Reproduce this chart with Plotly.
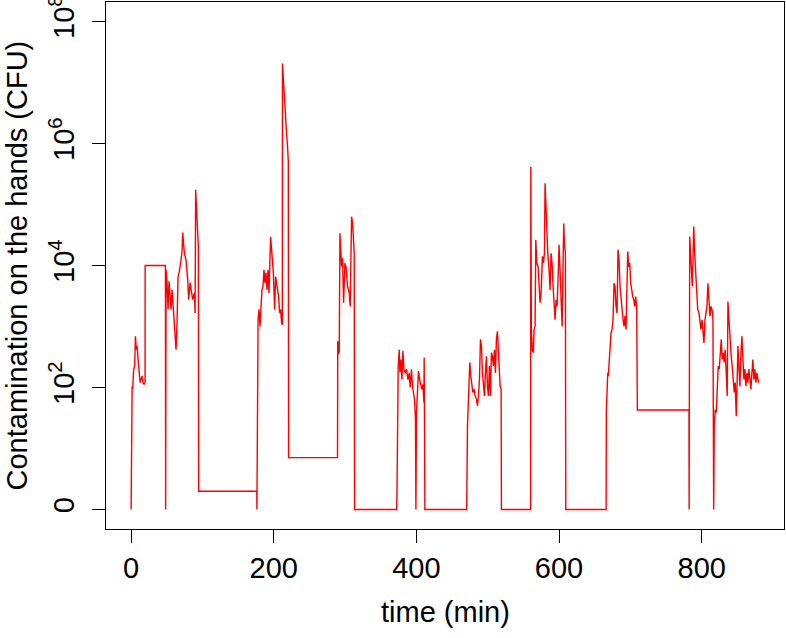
import plotly.graph_objects as go

# time (min) and log10 contamination on the hands (CFU)
time_min = [
    0, 0.8, 1.4, 2.2, 3.6, 5.0, 6.0, 7.4, 8.4, 9.8, 11.2, 12.6, 14.0, 15.4, 16.8, 18.2, 19.6,
    19.7, 48.1, 48.4, 49.0, 50.4, 51.8, 53.2, 54.6, 56.0, 57.4, 58.8, 60.2, 61.6, 63.0, 64.4,
    65.8, 67.2, 68.6, 70.0, 71.5, 72.3, 74.7, 77.0, 79.3, 80.7, 82.7, 84.5, 86.3, 88.7, 89.7,
    90.5, 91.9, 93.3, 94.3, 94.7, 176.2, 176.4, 176.8, 178.0, 179.3, 180.7, 182.1, 183.5,
    184.9, 186.3, 187.7, 189.1, 190.5, 191.9, 193.3, 194.7, 195.6, 199.4, 201.2, 202.6, 204.0,
    205.4, 206.8, 208.2, 209.6, 211.0, 212.0, 212.2, 213.4, 216.2, 218.0, 219.4, 220.4, 220.8,
    289.4, 289.7, 290.4, 291.4, 291.8, 292.8, 294.2, 295.1, 296.5, 297.9, 299.8, 301.2, 303.5,
    305.8, 307.2, 309.1, 310.5, 312.8, 313.3, 372.4, 372.8, 373.5, 374.5, 375.9, 376.9, 378.3,
    379.7, 381.1, 382.5, 384.3, 386.1, 388.1, 389.9, 391.3, 393.1, 394.5, 395.9, 397.3, 398.7,
    399.3, 400.1, 401.5, 402.9, 404.9, 406.3, 407.7, 409.1, 410.5, 410.9, 411.9, 470.5, 470.7,
    471.6, 473.0, 474.9, 476.3, 477.7, 479.1, 481.0, 482.4, 484.2, 485.6, 487.0, 488.4, 489.8,
    491.2, 492.6, 494.0, 495.4, 496.8, 498.2, 499.6, 501.0, 502.4, 503.8, 505.2, 506.6, 508.0,
    509.4, 510.8, 512.2, 513.6, 515.0, 516.0, 517.4, 518.8, 519.2, 560.1, 560.4, 561.2, 562.6,
    564.0, 565.0, 566.4, 567.4, 568.8, 570.6, 572.0, 573.4, 574.8, 576.7, 578.1, 579.5, 580.4,
    581.4, 582.8, 584.2, 586.0, 587.4, 588.8, 590.2, 591.6, 593.0, 594.4, 595.8, 597.2, 598.6,
    600.0, 601.4, 602.9, 604.3, 605.7, 606.6, 607.5, 608.9, 609.4, 666.0, 666.3, 667.3, 668.3,
    669.1, 670.1, 671.5, 672.9, 674.3, 675.7, 677.1, 678.5, 679.9, 681.3, 682.7, 684.1, 685.5,
    686.9, 688.3, 689.7, 691.1, 692.5, 693.9, 695.3, 696.3, 697.7, 699.1, 700.5, 701.9, 703.3,
    704.7, 706.1, 707.5, 708.9, 709.8, 782.2, 782.4, 783.2, 784.5, 786.0, 786.8, 787.8, 788.8,
    790.2, 791.6, 793.0, 794.4, 796.2, 797.6, 799.0, 800.4, 801.8, 803.2, 804.6, 806.0, 807.4,
    808.8, 810.2, 811.6, 813.0, 814.4, 815.8, 816.8, 817.6, 819.0, 820.4, 821.8, 823.2, 824.6,
    826.0, 827.4, 828.8, 830.2, 831.6, 833.0, 834.4, 835.8, 836.8, 838.2, 839.6, 841.0, 842.8,
    844.2, 845.6, 847.0, 848.4, 849.8, 850.8, 852.2, 853.6, 855.0, 856.4, 857.8, 859.2, 860.6,
    862.0, 863.4, 864.8, 866.2, 867.6, 869.0, 870.4, 871.8, 873.2, 874.6, 876.0, 877.4, 878.8,
    880.2,
]
log_cfu = [
    0, 1.70, 2.02, 1.97, 2.30, 2.35, 2.84, 2.62, 2.68, 2.46, 2.30, 2.08, 2.13, 2.19, 2.08, 2.05, 2.08,
    4.0, 4.0, 0, 3.93, 3.71, 3.28, 3.74, 3.55, 3.28, 3.60, 3.33, 3.06, 2.90, 2.62, 3.06,
    3.82, 3.88, 4.04, 4.09, 4.25, 4.54, 4.20, 4.09, 3.77, 3.44, 3.72, 3.60, 3.44, 3.55, 3.22,
    5.24, 4.90, 4.53, 4.30, 0.30, 0.30, 0, 1.07, 3.11, 3.28, 3.00, 3.33, 3.60,
    3.66, 3.93, 3.71, 3.88, 3.60, 3.93, 3.55, 4.04, 4.47, 3.88, 3.28, 3.82, 3.71,
    3.55, 3.49, 3.22, 3.28, 3.06, 3.03, 7.31, 7.03, 6.43, 6.16, 5.94, 5.70, 0.85,
    0.85, 2.76, 2.54, 2.73, 2.57, 4.53, 4.01, 3.98, 4.12, 3.39, 4.04, 3.98, 3.66,
    3.55, 3.33, 4.80, 4.70, 4.20, 0, 0, 0.29, 1.37, 2.35, 2.62, 2.25, 2.46,
    2.13, 2.60, 2.30, 2.24, 2.30, 2.13, 2.24, 2.00, 2.30, 2.02, 1.86, 1.81, 1.48,
    0, 1.59, 2.02, 2.27, 2.11, 2.02, 1.97, 2.05, 1.76, 2.49, 0, 0, 0.88,
    1.37, 1.81, 2.41, 2.19, 2.02, 1.92, 1.97, 1.86, 1.81, 1.70, 1.86, 2.13, 2.79,
    2.68, 2.24, 2.02, 1.86, 2.24, 2.51, 2.02, 1.86, 2.35, 1.86, 2.57, 2.51, 2.35,
    2.62, 2.24, 2.79, 2.92, 2.51, 2.24, 2.02, 1.97, 0, 0, 5.62, 2.95, 2.60,
    2.57, 2.95, 3.00, 4.42, 4.04, 3.98, 3.55, 3.39, 3.55, 4.15, 4.04, 4.20, 5.35,
    5.02, 4.64, 4.20, 3.93, 3.60, 4.20, 4.04, 3.66, 3.33, 3.11, 3.44, 3.33, 3.77,
    4.34, 3.93, 3.33, 3.00, 4.09, 4.69, 4.37, 4.20, 0, 0, 1.62, 2.08, 2.24,
    2.19, 2.35, 2.68, 2.90, 2.95, 3.11, 3.71, 3.66, 3.33, 3.22, 4.26, 4.09, 3.66,
    3.44, 3.22, 3.11, 3.00, 3.17, 2.95, 3.77, 4.23, 3.98, 4.04, 3.71, 3.55, 3.49,
    3.44, 3.33, 3.49, 3.28, 1.63, 1.63, 0, 4.47, 4.20, 3.82, 3.66, 4.09, 4.64,
    4.20, 3.82, 3.55, 3.28, 3.22, 3.11, 2.95, 3.11, 2.90, 2.73, 3.11, 3.22, 3.33,
    3.71, 3.33, 3.17, 3.33, 3.28, 3.11, 0, 1.37, 1.64, 1.59, 2.13, 2.35, 2.30,
    2.57, 2.79, 2.46, 2.57, 2.41, 2.62, 2.24, 1.86, 3.41, 3.11, 2.84, 2.57, 2.35,
    2.13, 1.92, 2.08, 1.53, 2.13, 2.68, 2.35, 2.02, 2.57, 2.84, 2.46, 2.13, 2.30,
    2.02, 2.24, 2.08, 2.30, 2.13, 1.97, 2.24, 2.46, 2.13, 2.30, 2.08, 2.24, 2.13,
    2.08,
]

x_ticks = [0, 200, 400, 600, 800]
y_ticks = [0, 2, 4, 6, 8]
y_ticktext = ["0", "10<sup>2</sup>", "10<sup>4</sup>", "10<sup>6</sup>", "10<sup>8</sup>"]

FONT = "Liberation Sans, Arial, Helvetica, sans-serif"

# R-style 4% padding around the data range
xmin, xmax = min(time_min), max(time_min)
pad = 0.04 * (xmax - xmin)
ylim = (0, 8)
ypad = 0.04 * (ylim[1] - ylim[0])

fig = go.Figure()
fig.add_trace(go.Scatter(
    x=time_min, y=log_cfu,
    mode="lines",
    line=dict(color="#ff0000", width=1.4),
    showlegend=False,
))

axis_common = dict(
    showgrid=False, zeroline=False, automargin=False,
    showline=True, mirror=True, linecolor="black", linewidth=1,
    ticks="outside", ticklen=13, tickwidth=1, tickcolor="black",
    ticklabeloverflow="allow",
    tickfont=dict(family=FONT, size=29, color="black"),
)

fig.update_layout(
    width=786, height=638,
    paper_bgcolor="white", plot_bgcolor="white",
    margin=dict(l=106, r=2, t=2, b=109),
    xaxis=dict(
        range=[xmin - pad, xmax + pad],
        tickmode="array", tickvals=x_ticks,
        ticklabelstandoff=0,
        **axis_common,
    ),
    yaxis=dict(
        range=[ylim[0] - ypad, ylim[1] + ypad],
        tickmode="array", tickvals=y_ticks, ticktext=y_ticktext,
        tickangle=-90,
        ticklabelstandoff=6,
        **axis_common,
    ),
    annotations=[
        dict(text="time (min)", xref="paper", yref="paper", x=0.5, y=0,
             xanchor="center", yanchor="middle", yshift=-83, showarrow=False,
             font=dict(family=FONT, size=29, color="black")),
        dict(text="Contamination on the hands (CFU)", xref="paper", yref="paper",
             x=0, y=0.5, xanchor="center", yanchor="middle", xshift=-90,
             textangle=-90, showarrow=False,
             font=dict(family=FONT, size=29, color="black")),
    ],
)

# page body has a default margin; drop it so the figure fills the window
fig.write_html("out.html", config={"displayModeBar": False},
               post_script="document.body.style.margin='0';")
